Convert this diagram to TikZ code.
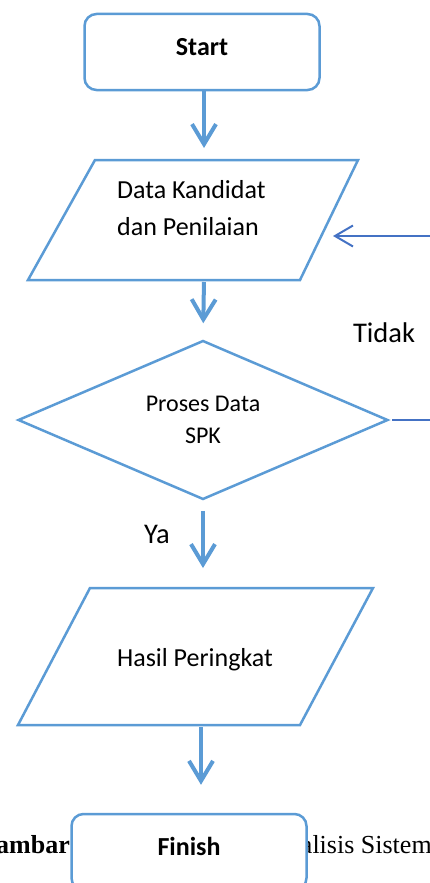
\documentclass[tikz,border=0pt]{standalone}
\usepackage{fontspec}
\setmainfont{Carlito}
\newfontfamily\capfont{Liberation Serif}
\usetikzlibrary{arrows.meta,shapes.geometric}
\definecolor{boxblue}{HTML}{5B9BD5}
\definecolor{loopblue}{HTML}{4472C4}

\begin{document}
\begin{tikzpicture}[x=1pt,y=-1pt,
  term/.style={draw=boxblue,line width=2.5pt,rounded corners=12pt,fill=white,
    minimum width=235pt,minimum height=76pt,text height=20pt,text depth=13pt,
    font={\fontsize{26}{31}\selectfont\bfseries}},
  io/.style={draw=boxblue,line width=2.5pt},
  flow/.style={draw=boxblue,line width=4pt,-{Straight Barb[length=20pt,width=24pt]}},
  txt/.style={font={\fontsize{26}{37}\selectfont},align=left,inner sep=0pt},
  lbl/.style={font={\fontsize{28.5}{34}\selectfont},inner sep=0pt}]
\useasboundingbox (0,0) rectangle (430,883);

\node[term] (start) at (202,52) {Start};

% input: kandidat + penilaian
\draw[io] (95,160) -- (358,160) -- (300,280) -- (28,280) -- cycle;
\node[txt,anchor=west] (data) at (117,208) {Data Kandidat\\dan Penilaian};
\coordinate (data-n) at (204,160);
\coordinate (data-s) at (204,280);
\coordinate (data-e) at (321,236);

\node[draw=boxblue,line width=2.5pt,shape=diamond,aspect=2.33,
  minimum width=370pt,minimum height=159pt,inner sep=0pt,align=center,
  font={\fontsize{24}{32}\selectfont}] (proses) at (203,420) {Proses Data\\SPK};

% output
\draw[io] (90,588) -- (373,588) -- (300,725) -- (18,725) -- cycle;
\node[txt] (hasil) at (195,660) {Hasil Peringkat};
\coordinate (hasil-n) at (203,588);
\coordinate (hasil-s) at (201,725);

% caption sits behind the finish box
\node[anchor=base east,inner sep=0pt,
  font={\capfont\bfseries\fontsize{26}{31}\selectfont}] (capL) at (70,853) {Gambar};
\node[anchor=base west,inner sep=0pt,
  font={\capfont\fontsize{26}{31}\selectfont}] (capR) at (269,853) {Analisis Sistem};

\node[term] (finish) at (189,852) {Finish};

\draw[flow,shorten >=12pt] (start.south -| data-n) -- (data-n);
\draw[flow,shorten <=2pt,shorten >=16pt] (data-s) -- (proses.north);
\draw[flow,shorten <=10pt,shorten >=20pt] (proses.south) -- (hasil-n);
\draw[flow,shorten <=2pt,shorten >=28pt] (hasil-s) -- (finish.north -| hasil-s);

% back to input when not done
\draw[loopblue,line width=2pt,shorten <=3pt,shorten >=12pt,
  -{Straight Barb[length=18pt,width=21pt]}]
  (proses.east) -- ++(55,0) |- (data-e);

\node[lbl] (tidak) at (384,333) {Tidak};
\node[lbl] (ya) at (157,534) {Ya};
\end{tikzpicture}
\end{document}
